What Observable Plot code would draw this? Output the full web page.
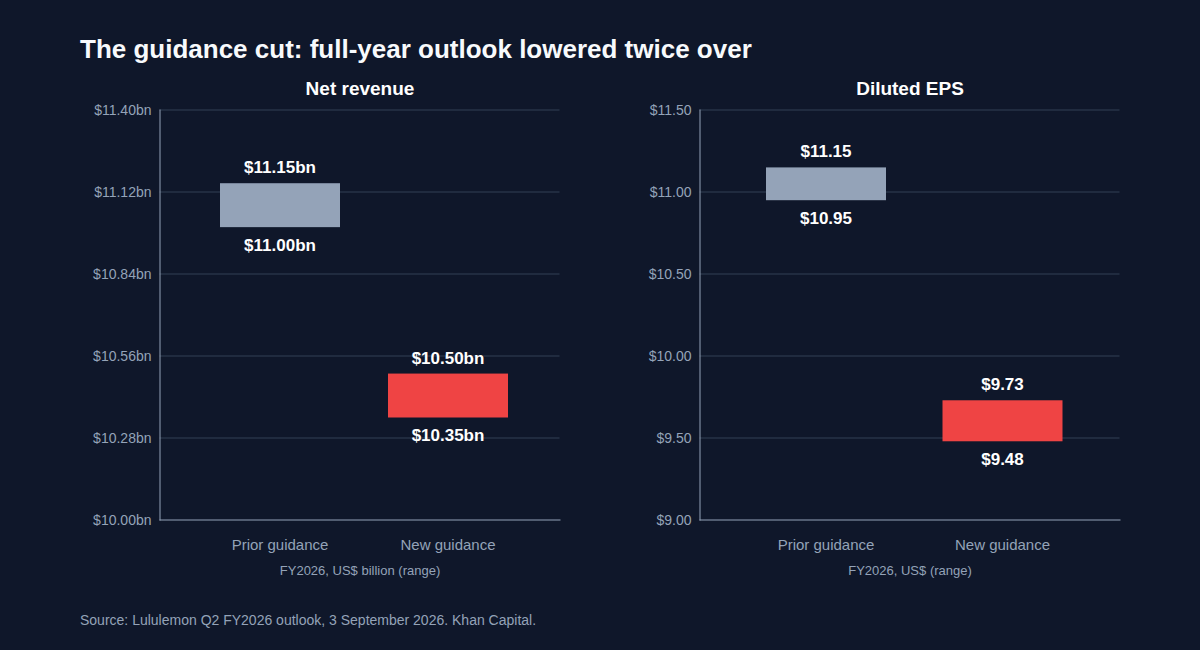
<!DOCTYPE html>
<html>
<head>
<meta charset="utf-8">
<script src="https://cdn.jsdelivr.net/npm/d3@7"></script>
<script src="https://cdn.jsdelivr.net/npm/@observablehq/plot@0.6"></script>
<style>
html,body{margin:0;padding:0;background:#0f172a;}
body{width:1200px;height:650px;position:relative;overflow:hidden;font-family:"Liberation Sans",Arial,sans-serif;}
h1{position:absolute;left:80px;top:34px;margin:0;font-size:26px;line-height:30px;font-weight:700;color:#f8fafc;}
#source{position:absolute;left:80px;top:612px;font-size:14px;line-height:16px;color:#94a3b8;}
.panel{position:absolute;top:0;}
.panel svg{display:block;}
</style>
</head>
<body>
<h1>The guidance cut: full-year outlook lowered twice over</h1>
<div id="left" class="panel" style="left:0"></div>
<div id="right" class="panel" style="left:600px"></div>
<div id="source">Source: Lululemon Q2 FY2026 outlook, 3 September 2026. Khan Capital.</div>
<script>
const categories = ["Prior guidance", "New guidance"];
const colors = ["#94a3b8", "#ef4444"];

const revenueLow = [11.00, 10.35];
const revenueHigh = [11.15, 10.50];
const revenueTicks = [10.00, 10.28, 10.56, 10.84, 11.12, 11.40];

const epsLow = [10.95, 9.48];
const epsHigh = [11.15, 9.73];
const epsTicks = [9.00, 9.50, 10.00, 10.50, 11.00, 11.50];

function panel({title, axisLabel, low, high, ticks, fmt, width, marginLeft, marginRight, xRange, paddingInner}) {
  const rows = categories.map((c, i) => ({c, low: low[i], high: high[i], color: colors[i]}));
  return Plot.plot({
    width, height: 650,
    marginLeft, marginRight, marginTop: 110, marginBottom: 130,
    style: {background: "transparent", fontFamily: '"Liberation Sans",Arial,sans-serif', overflow: "visible"},
    x: {type: "band", domain: categories, range: xRange, paddingInner, paddingOuter: 0, round: false},
    y: {domain: [ticks[0], ticks[ticks.length - 1]]},
    marks: [
      Plot.ruleY(ticks.slice(1), {stroke: "#334155", strokeWidth: 1, dx: -0.5, dy: -0.5}),
      Plot.barY(rows, {x: "c", y1: "low", y2: "high", fill: "color"}),
      Plot.frame({anchor: "left", stroke: "#94a3b8", strokeWidth: 1, dx: -0.5, dy: -0.5}),
      Plot.frame({anchor: "bottom", stroke: "#94a3b8", strokeWidth: 1, dx: -0.5, dy: -0.5}),
      Plot.axisY({ticks, tickSize: 0, tickPadding: 9, label: null, tickFormat: fmt,
        fill: "#94a3b8", fontSize: 14}),
      Plot.axisX({tickSize: 0, tickPadding: 19, label: null, fill: "#94a3b8", fontSize: 15, dx: -0.5}),
      Plot.text(rows, {x: "c", y: "high", text: d => fmt(d.high), dx: -0.5, dy: -16, fill: "#ffffff",
        fontSize: 17, fontWeight: 700}),
      Plot.text(rows, {x: "c", y: "low", text: d => fmt(d.low), dx: -0.5, dy: 18, fill: "#ffffff",
        fontSize: 17, fontWeight: 700}),
      Plot.text([title], {frameAnchor: "top", dx: -0.5, dy: -29, fill: "#ffffff", fontSize: 19, fontWeight: 700}),
      Plot.text([axisLabel], {frameAnchor: "bottom", dx: -0.5, dy: 54, fill: "#94a3b8", fontSize: 13})
    ]
  });
}

document.getElementById("left").append(panel({
  title: "Net revenue", axisLabel: "FY2026, US$ billion (range)",
  low: revenueLow, high: revenueHigh, ticks: revenueTicks,
  fmt: v => "$" + v.toFixed(2) + "bn",
  width: 600, marginLeft: 160, marginRight: 40, xRange: [220, 508], paddingInner: 48 / 168
}));
document.getElementById("right").append(panel({
  title: "Diluted EPS", axisLabel: "FY2026, US$ (range)",
  low: epsLow, high: epsHigh, ticks: epsTicks,
  fmt: v => "$" + v.toFixed(2),
  width: 600, marginLeft: 100, marginRight: 80, xRange: [166, 462.5], paddingInner: 56.5 / 176.5
}));
</script>
</body>
</html>
